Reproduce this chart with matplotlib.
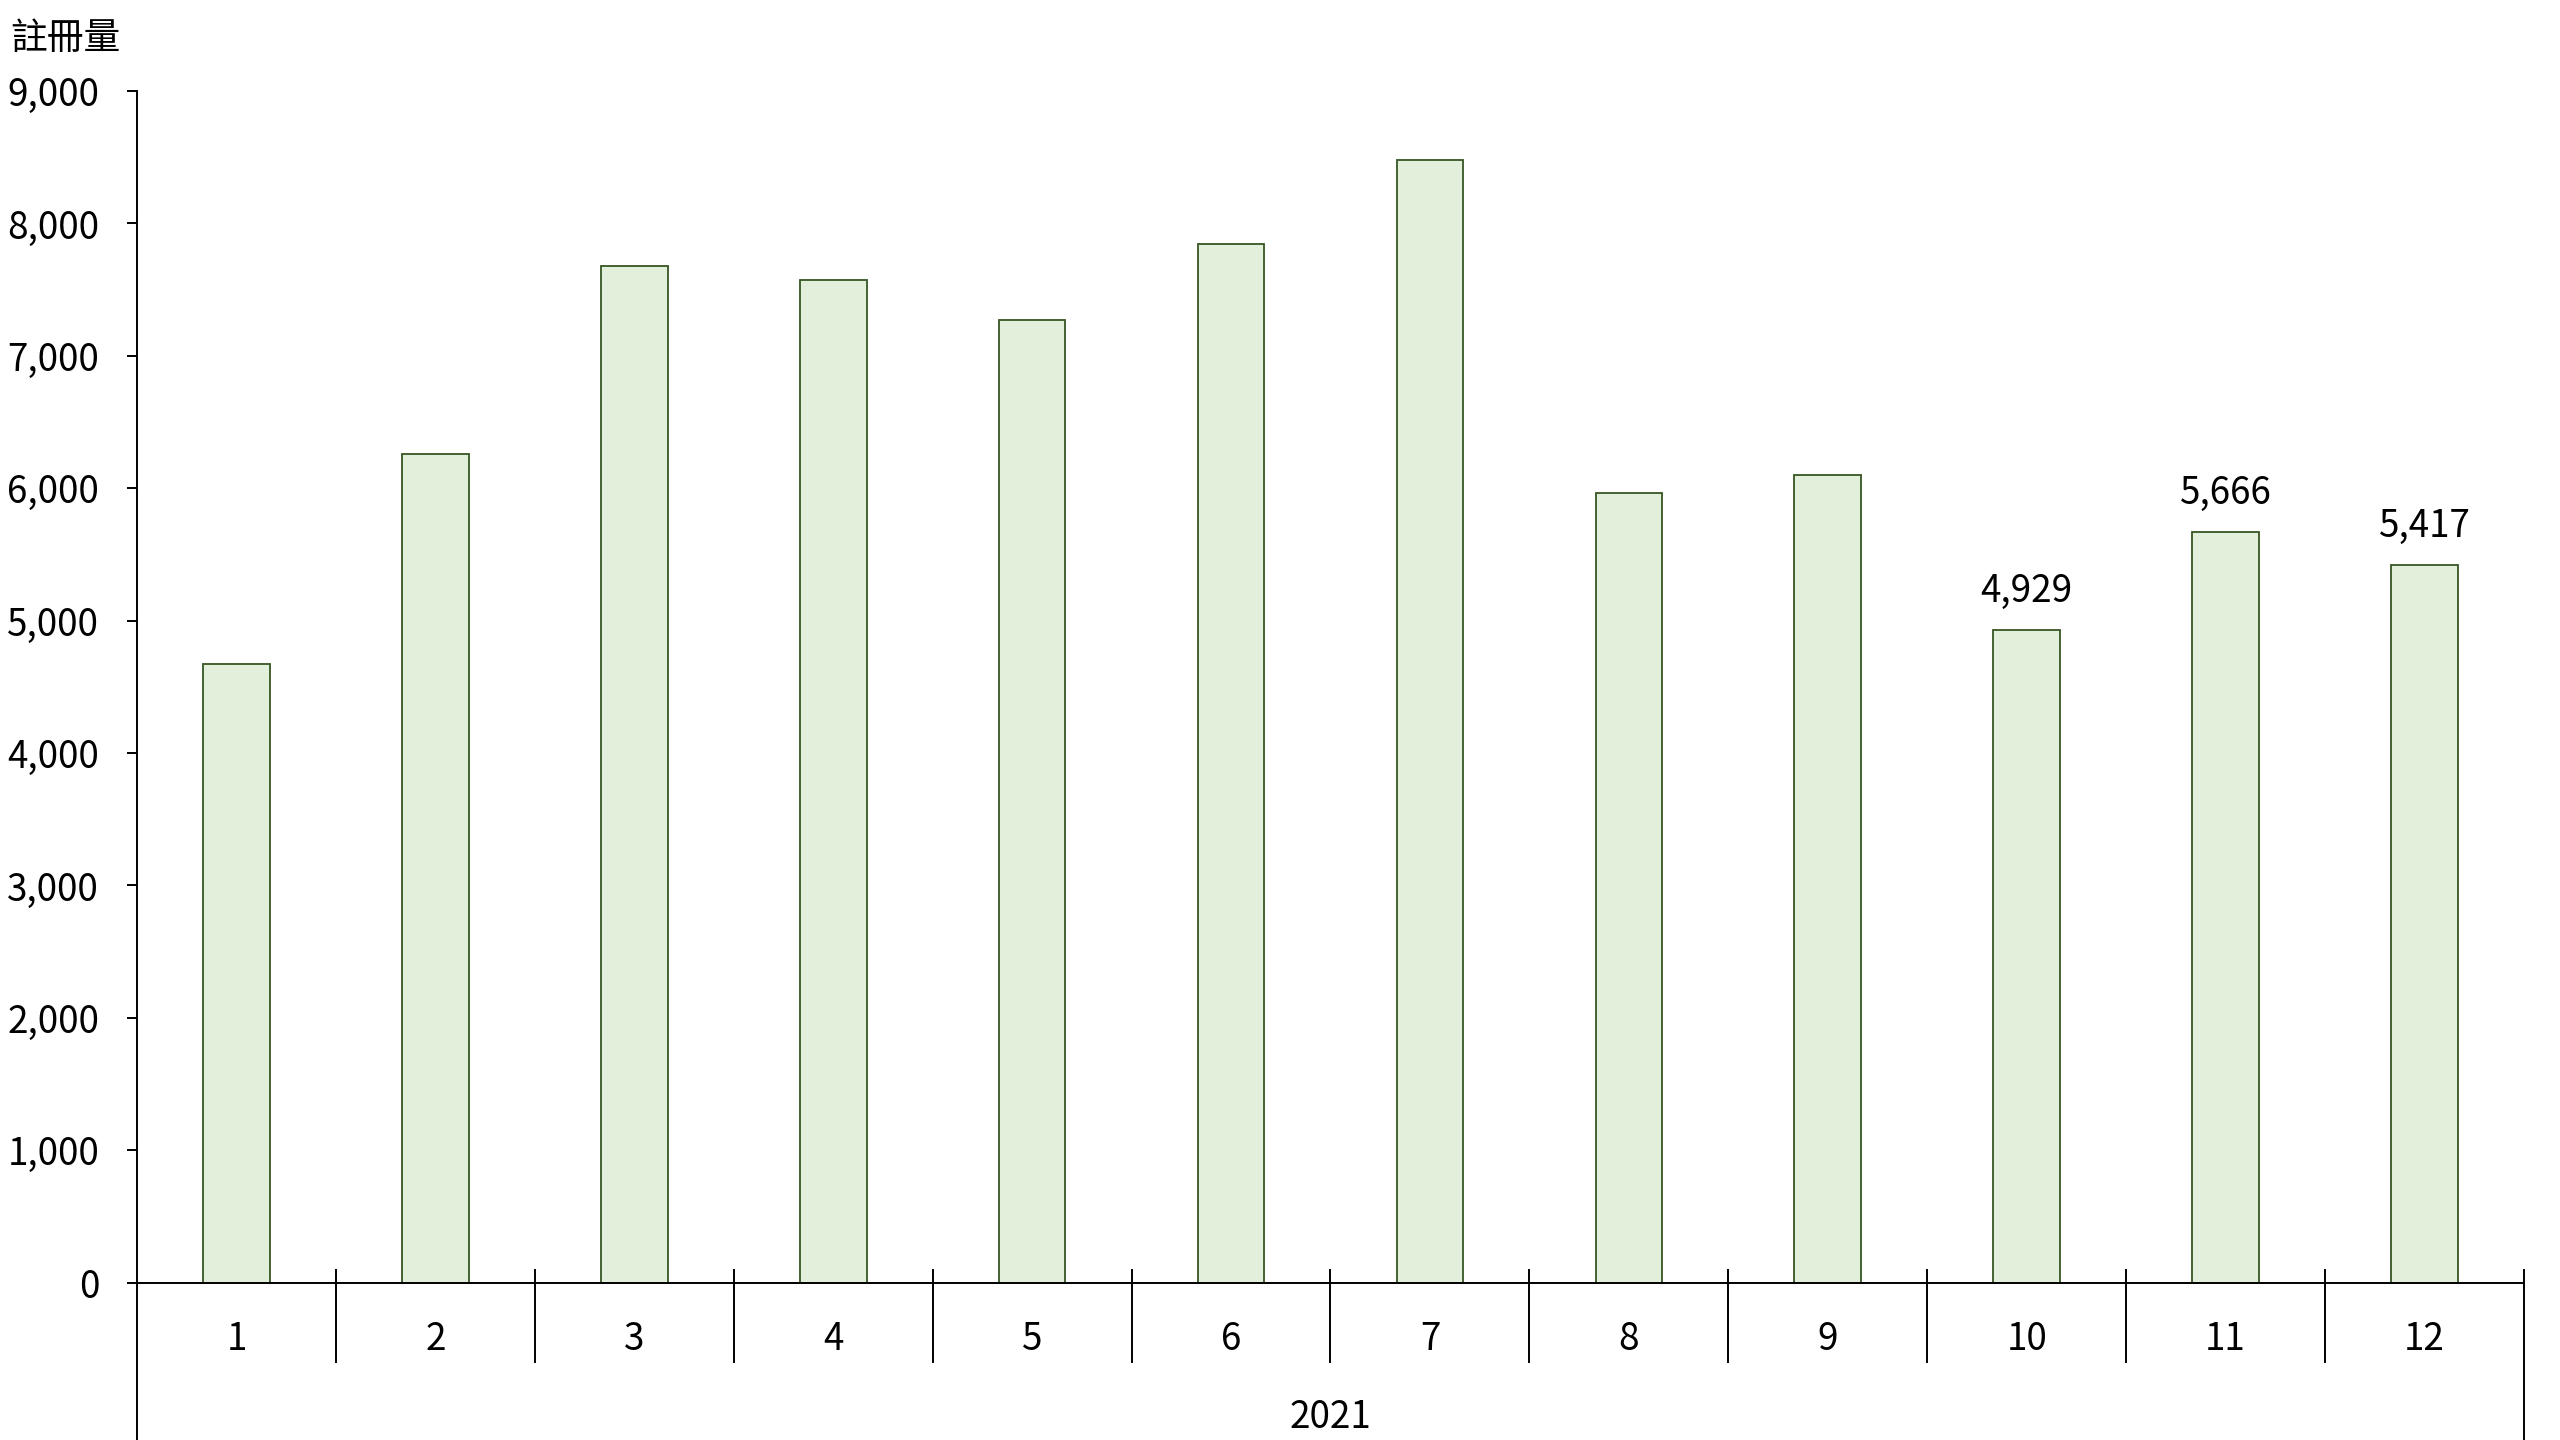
import matplotlib
matplotlib.use("Agg")
import matplotlib.pyplot as plt
import matplotlib.transforms as mtransforms

plt.rcParams['font.family'] = ['Noto Sans CJK TC', 'DejaVu Sans']
plt.rcParams['font.weight'] = 'light'

months = ['1', '2', '3', '4', '5', '6', '7', '8', '9', '10', '11', '12']
year_label = '2021'
registrations = [4675, 6258, 7678, 7570, 7270, 7842, 8477, 5964, 6100, 4929, 5666, 5417]
labeled = {9: '4,929', 10: '5,666', 11: '5,417'}
yticks = [0, 1000, 2000, 3000, 4000, 5000, 6000, 7000, 8000, 9000]

fs = 26.5
fig = plt.figure(figsize=(25.6, 14.4), dpi=100)
ax = fig.add_axes([137 / 2560, 1 - 1282.7 / 1440, (2524 - 137) / 2560, (1282.7 - 91) / 1440])

x = list(range(len(months)))
ax.bar(x, registrations, width=0.335, color='#E2EFDA', edgecolor='#375623', linewidth=1.3, zorder=2)

for i, txt in labeled.items():
    ax.annotate(txt, (i, registrations[i]), xytext=(0, 14), textcoords='offset points',
                ha='center', va='bottom', fontsize=fs)

ax.set_xlim(-0.5, len(months) - 0.5)
ax.set_ylim(0, 9000)
ax.set_yticks(yticks)
ax.set_yticklabels([f'{v:,}' for v in yticks], fontsize=fs)
ax.set_xticks(x)
ax.set_xticklabels(months, fontsize=fs)
ax.tick_params(axis='x', length=0, pad=26.5)
ax.tick_params(axis='y', length=7.2, width=1.4, pad=20, direction='out')

for s in ['top', 'right']:
    ax.spines[s].set_visible(False)
for s in ['left', 'bottom']:
    ax.spines[s].set_linewidth(1.4)

# category separators and year bracket
trans = mtransforms.blended_transform_factory(ax.transData, ax.transAxes)
for b in range(1, len(months)):
    ax.plot([b - 0.5, b - 0.5], [0.0107, -0.0665], transform=trans, color='black', lw=1.4, clip_on=False)
ax.plot([-0.5, -0.5], [0, -0.135], transform=trans, color='black', lw=1.4, clip_on=False)
ax.plot([len(months) - 0.5, len(months) - 0.5], [0.0107, -0.135], transform=trans,
        color='black', lw=1.4, clip_on=False)
ax.text((len(months) - 1) / 2, -0.113, year_label, transform=trans, ha='center', va='center', fontsize=fs)

fig.text(10 / 2560, 1 - 38 / 1440, '註冊量', ha='left', va='center', fontsize=fs)

fig.savefig('out.png', dpi=100)
